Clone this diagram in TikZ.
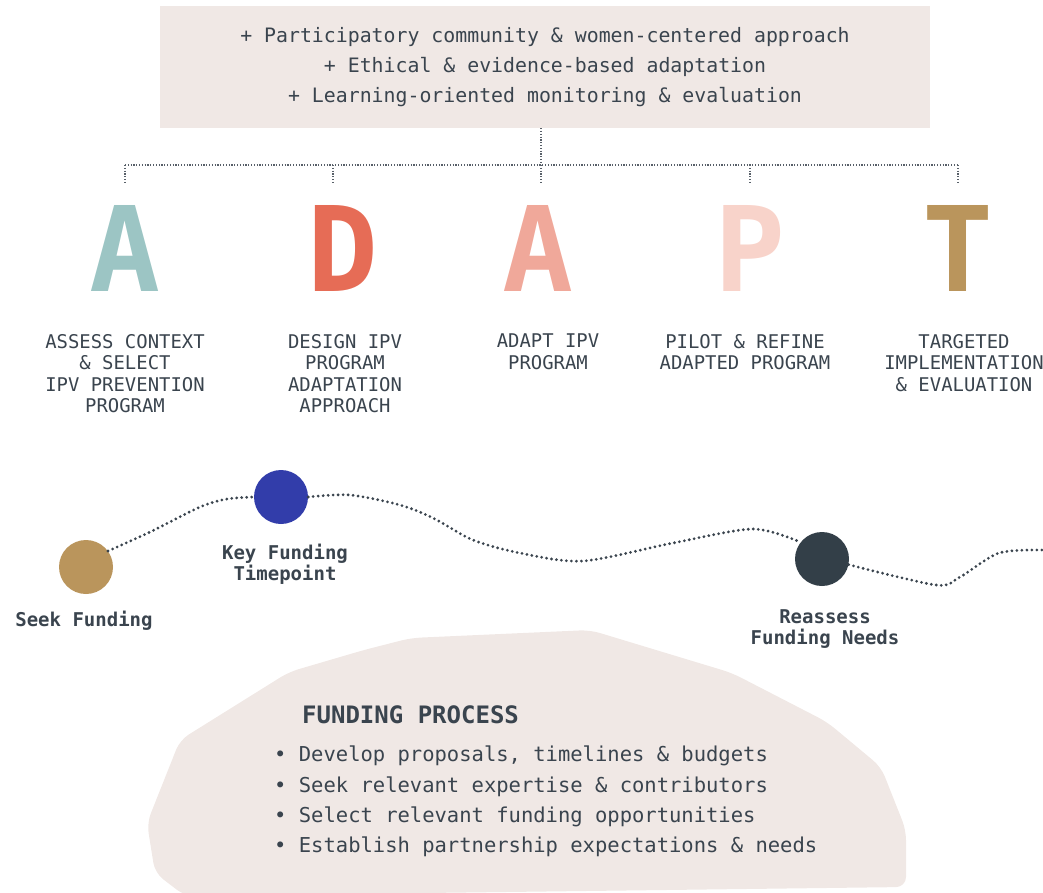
\documentclass[tikz,border=0pt]{standalone}
\usepackage{fontspec}
\newfontfamily\mono{DejaVu Sans Mono}
\usepackage{tikz}
\usetikzlibrary{shapes,arrows,shadows}
\definecolor{beige}{HTML}{F0E8E5}
\definecolor{encre}{HTML}{3A444E}
\definecolor{coulA}{HTML}{9CC5C4}
\definecolor{coulD}{HTML}{E66C56}
\definecolor{coulAb}{HTML}{F0A89A}
\definecolor{coulP}{HTML}{F8D3CA}
\definecolor{coulT}{HTML}{BA955C}
\definecolor{bleu}{HTML}{323DAA}
\definecolor{ardoise}{HTML}{333F48}

\begin{document}
\begin{tikzpicture}[x=1pt,y=-1pt]
	\tikzstyle{principe}=[rectangle,fill=beige,minimum width=770pt,minimum 
	height=122pt,text=encre,align=center,font=\mono\fontsize{19.85}{30}\selectfont]
	\tikzstyle{lettre}=[anchor=base,inner sep=0pt,
	font=\mono\bfseries\fontsize{118}{118}\selectfont]
	\tikzstyle{etape}=[anchor=north,inner sep=0pt,align=center,text=encre,
	font=\mono\fontsize{18.9}{21.5}\selectfont]
	\tikzstyle{pastille}=[circle,minimum size=54pt,inner sep=0pt]
	\tikzstyle{jalon}=[anchor=north,inner sep=0pt,align=center,text=encre,
	font=\mono\bfseries\fontsize{19}{21}\selectfont]
	\tikzstyle{pointille}=[draw=encre!85,line width=1.2pt,dash pattern=on 1.2pt 
	off 1.6pt]
	\tikzstyle{vague}=[draw=encre,line width=3.1pt,line cap=round,dash 
	pattern=on 0pt off 5pt]

	\useasboundingbox (0,0) rectangle (1043,893);

	\fill[beige,rounded corners=10pt] (590,630) -- (732,673) -- (827,722) -- 
	(881,767) -- (906,830) -- (906,887) -- (185,896) -- (155,873) -- (147,823) 
	-- (180,740) -- (289,672) -- (364,650) -- (411,638) -- cycle;

	\node[principe] (principes) at (545,67) {+ Participatory community \& 
	women-centered approach\\+ Ethical \& evidence-based adaptation\\+ 
	Learning-oriented monitoring \& evaluation};

	\foreach \x [count=\i] in {125,333,541,750,958} {
		\coordinate (b\i) at (\x,165);
		\coordinate (t\i) at (\x,183);
	}
	\draw[pointille] (principes.south -| b3) -- (b3);
	\draw[pointille] (b1) -- (b5);
	\foreach \i in {1,...,5} \draw[pointille] (b\i) -- (t\i);

	\node[lettre,text=coulA] (l1) at (125,291) {A};
	\node[lettre,text=coulD] (l2) at (343,291) {D};
	\node[lettre,text=coulAb] (l3) at (538,291) {A};
	\node[lettre,text=coulP] (l4) at (750,291) {P};
	\node[lettre,text=coulT] (l5) at (958,291) {T};

	\node[etape] (e1) at (125,334) {ASSESS CONTEXT\\\& SELECT\\IPV 
	PREVENTION\\PROGRAM};
	\node[etape] (e2) at (345,334) {DESIGN IPV\\PROGRAM\\ADAPTATION\\APPROACH};
	\node[etape] (e3) at (548,334) {ADAPT IPV\\PROGRAM};
	\node[etape] (e4) at (745,334) {PILOT \& REFINE\\ADAPTED PROGRAM};
	\node[etape] (e5) at (964,334) {TARGETED\\IMPLEMENTATION\\\& EVALUATION};

	\node[pastille,fill=coulT] (seek) at (86,567) {};
	\node[pastille,fill=bleu] (key) at (281,497) {};
	\node[pastille,fill=ardoise] (reassess) at (822,559) {};
	\coordinate (fin) at (1043,550);

	\draw[vague] plot[smooth] coordinates {(seek.36) (150,532) (200,507) 
	(227,499) (key.west)};
	\draw[vague] plot[smooth] coordinates {(key.east) (350,495) (400,505) 
	(433,518) (473,540) (520,553) (583,561) (673,543) (753,529) (reassess.142)};
	\draw[vague] plot[smooth] coordinates {(reassess.-12) (936,585) (960,577) 
	(999,553) (fin)};

	\node[jalon] (j1) at (84,611) {Seek Funding};
	\node[jalon] (j2) at (285,544) {Key Funding\\Timepoint};
	\node[jalon] (j3) at (825,609) {Reassess\\Funding Needs};

	\node[anchor=base west,inner sep=0pt,text=encre,
	font=\mono\bfseries\fontsize{24}{24}\selectfont] (titre) at (302,723) 
	{FUNDING PROCESS};
	\node[anchor=north west,inner sep=0pt,align=left,text=encre,
	font=\mono\fontsize{20.5}{30.3}\selectfont] (liste) at (274,746) {• Develop 
	proposals, timelines \& budgets\\• Seek relevant expertise \& 
	contributors\\• Select relevant funding opportunities\\• Establish 
	partnership expectations \& needs};
\end{tikzpicture}
\end{document}
